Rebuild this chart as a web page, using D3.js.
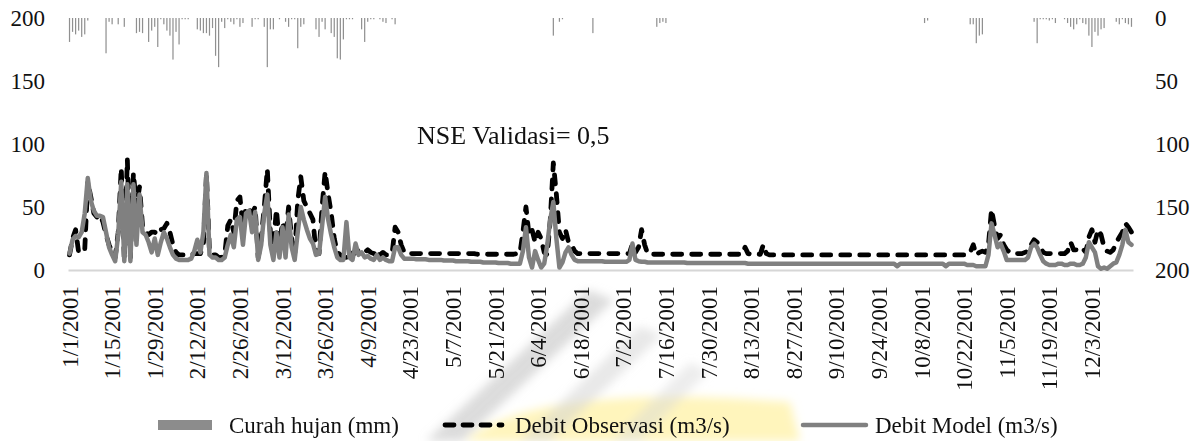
<!DOCTYPE html>
<html><head><meta charset="utf-8">
<script src="https://cdn.jsdelivr.net/npm/d3@7"></script>
<style>
html,body{margin:0;padding:0;background:#fff;}
svg{display:block;font-family:"Liberation Serif",serif;}
</style></head>
<body><svg id="c" width="1196" height="441"></svg>
<script>
// ---------- DATA ----------
const nDays = 350; // 1/1/2001 .. 12/16/2001
const tickLabels = ["1/1/2001","1/15/2001","1/29/2001","2/12/2001","2/26/2001","3/12/2001","3/26/2001","4/9/2001","4/23/2001","5/7/2001","5/21/2001","6/4/2001","6/18/2001","7/2/2001","7/16/2001","7/30/2001","8/13/2001","8/27/2001","9/10/2001","9/24/2001","10/8/2001","10/22/2001","11/5/2001","11/19/2001","12/3/2001"];
const leftTicks = [0, 50, 100, 150, 200];
const rightTicks = [0, 50, 100, 150, 200];
const seriesNames = ["Curah hujan (mm)", "Debit Observasi (m3/s)", "Debit Model (m3/s)"];
const titleText = "NSE Validasi= 0,5";

const rain = [
19,11,13,10,15,13,2,0,0,0,
0,0,28,3,5,0,5,0,7,0,
0,0,12,11,12,0,19,10,7,23,
1,5,10,14,33,11,21,1,1,1,
0,0,9,10,12,12,14,8,30,39,
3,8,1,3,5,1,7,4,0,0,
7,1,1,0,7,39,9,9,0,1,
0,3,7,1,1,24,7,5,0,0,
0,9,15,3,9,0,12,15,32,33,
17,1,1,1,0,0,9,19,3,1,
1,0,1,3,4,0,1,5,0,0,
0,0,0,0,0,0,0,0,0,0,
0,0,0,0,0,0,0,0,0,0,
0,0,0,0,0,0,0,0,0,0,
0,0,0,0,0,0,0,0,0,0,
0,0,0,0,0,0,0,0,0,14,
0,3,1,0,0,0,0,0,0,0,
0,0,12,0,0,0,0,0,0,0,
0,0,0,0,0,0,0,0,0,0,
0,0,0,7,4,3,4,0,0,0,
0,0,0,0,0,0,0,0,0,0,
0,0,0,0,0,0,0,0,0,0,
0,0,0,0,0,0,0,0,0,0,
0,0,0,0,0,0,0,0,0,0,
0,0,0,0,0,0,0,0,0,0,
0,0,0,0,0,0,0,0,0,0,
0,0,0,0,0,0,0,0,0,0,
0,0,0,0,0,0,0,0,0,0,
0,4,2,0,0,0,0,0,0,0,
0,0,0,0,0,0,5,5,20,14,
13,0,0,0,0,0,0,0,0,0,
0,0,0,0,0,0,0,3,20,1,
1,1,2,1,4,0,0,1,4,7,
9,5,1,4,5,14,23,11,14,9,
8,0,0,0,3,5,1,4,5,7
];

const qObs = [
12,25,32,14,14,16,70,58,45,42,
44,38,28,20,14,10,30,81,8,88,
10,77,50,66,35,30,28,30,30,28,
32,33,37,30,20,14,12,12,12,12,
12,13,13,13,20,76,14,12,12,10,
10,12,35,40,30,55,58,35,50,48,
45,50,10,25,50,80,30,20,48,20,
38,25,50,25,12,55,74,55,50,45,
40,14,13,50,78,60,45,25,14,12,
10,10,15,12,14,16,15,14,16,14,
13,16,12,14,12,12,13,34,30,20,
14,13,13,13,13,13,13,13,13,13,
13,13,13,13,13,13,13,13,13,13,
13,13,13,13,12.5,12.5,12.5,12.5,12.5,12.5,
12.5,12.5,12.5,12.5,12.5,12.5,12.5,13,13,30,
50,28,32,22,30,25,14,12,40,85,
60,30,25,32,22,20,15,13,13,13,
13,13,13,13,13,13,13,13,13,13,
13,13,13,13,13,21,14,18,32,20,
13,12.5,12.5,12.5,12.5,12.5,12.5,12.5,12.5,12.5,
12.5,12.5,12.5,12.5,12.5,12.5,12.5,12.5,12.5,12.5,
12.5,12.5,12.5,12.5,12.5,12.5,12.5,12.5,12.5,12.5,
12.5,12.5,18,13,12.5,12.5,12.5,12.5,20,13,
12,12,12,12,12,12,12,12,12,12,
12,12,12,12,12,12,12,12,12,12,
12,12,12,12,12,12,12,12,12,12,
12,12,12,12,12,12,12,12,12,12,
12,12,12,12,12,12,12,12,12,12,
12,12,12,12,12,12,12,12,12,12,
12,12,12,12,12,12,14,20,12,14,
15,14,20,48,35,25,28,20,16,14,
14,13,13,13,14,15,20,24,22,18,
14,13,13,13,13,13,13,13,15,22,
16,16,15,17,14,26,32,22,32,28,
18,15,14,16,22,26,30,37,34,30
];

const qMod = [
13,24,27,26,30,45,73,55,47,43,
43,42,30,18,12,7,28,70,7,68,
7,68,20,60,30,28,22,14,25,12,
22,30,25,18,12,9,8,8,8,8,
9,15,24,14,30,77,12,10,10,8,
8,10,20,28,18,40,42,20,45,47,
30,46,8,20,45,60,20,8,30,10,
34,10,44,18,8,30,50,40,32,25,
21,12,13,35,58,40,28,18,10,8,
8,38,10,8,21,12,14,10,11,9,
8,12,8,10,8,7,7,18,18,12,
9,9,9,9,8.5,8.5,8.5,8.5,8,8,
8,8,8,7.5,7.5,7.5,7.5,7,7,7,
7,7,6.5,6.5,6.5,6.5,6,6,6,6,
6,5.5,5.5,5.5,5.5,5,5,5,5,15,
34,10,2,15,8,2,5,20,40,54,
25,2,6,14,18,12,8,7,7,7,
7,7,7,7,7,7,6.5,6.5,6.5,6.5,
6.5,6.5,6.5,6.5,8,21,8,7,6.5,6.5,
6,6,6,6,6,6,6,6,6,6,
6,6,6,5.5,5.5,5.5,5.5,5.5,5.5,5.5,
5.5,5.5,5.5,5.5,5.5,5.5,5.5,5.5,5.5,5.5,
5.5,5.5,5.5,5,5,5,5,5,5,5,
5,5,5,5,5,5,5,5,5,5,
5,5,5,5,5,5,5,5,5,5,
5,5,5,5,5,5,5,5,5,5,
5,5,5,5,5,5,5,5,5,5,
5,5,3,5,5,5,5,5,5,5,
5,5,5,5,5,5,5,5,3,5,
5,5,5,5,5,4,4,4,3,3,
3,3,12,37,28,18,21,15,8,8,
8,8,8,8,8,10,18,21,18,12,
7,5,4,4,4,5,5,4,4,5,
5,4,4,5,10,22,18,14,3,1,
2,1,3,5,6,12,20,32,22,20
];

// ---------- CHART ----------
const svg = d3.select("#c");
const plot = {left: 68, right: 1133, top: 18, bottom: 270};
const days = d3.range(nDays);

// faint background watermark (blurred logo)
const defs = svg.append("defs");
defs.append("filter").attr("id", "blur").attr("x", "-20%").attr("y", "-20%").attr("width", "140%").attr("height", "140%")
  .append("feGaussianBlur").attr("stdDeviation", 5);
const wm = svg.append("g").attr("filter", "url(#blur)");
wm.append("path").attr("d", "M465,441 C515,398 640,390 790,402 L800,441 Z").attr("fill", "#fff1a0").attr("opacity", 0.7);
wm.append("path").attr("d", "M426,441 L462,441 L614,300 L588,290 Z").attr("fill", "#c4c4c4").attr("opacity", 0.6);
wm.append("path").attr("d", "M520,441 L550,441 L662,335 L640,326 Z").attr("fill", "#d2d2d2").attr("opacity", 0.5);
wm.append("path").attr("d", "M612,441 L640,441 L708,372 L690,362 Z").attr("fill", "#d8d8d8").attr("opacity", 0.45);

const x = d3.scaleBand().domain(days).range([plot.left, plot.right]).paddingInner(0.6).paddingOuter(0.3);
const cx = i => x(i) + x.bandwidth() / 2;
const yL = d3.scaleLinear().domain([0, 200]).range([plot.bottom, plot.top]);
const yR = d3.scaleLinear().domain([0, 200]).range([plot.top, plot.bottom]);

// axes
const axL = svg.append("g").attr("transform", `translate(${plot.left},0)`)
  .call(d3.axisLeft(yL).tickValues(leftTicks).tickSize(0).tickPadding(23));
const axR = svg.append("g").attr("transform", `translate(${plot.right},0)`)
  .call(d3.axisRight(yR).tickValues(rightTicks).tickSize(0).tickPadding(22));
[axL, axR].forEach(a => {
  a.select(".domain").remove();
  a.selectAll("text").attr("font-family", "Liberation Serif").attr("font-size", 23).attr("fill", "#111");
});

const tickIdx = tickLabels.map((d, i) => i * 14);
const axB = svg.append("g").attr("transform", `translate(0,${plot.bottom})`)
  .call(d3.axisBottom(x).tickValues(tickIdx).tickSize(0).tickFormat((d, i) => tickLabels[i]));
axB.select(".domain").attr("stroke", "#d6d6d6").attr("stroke-width", 2);
axB.selectAll("text")
  .attr("font-family", "Liberation Serif").attr("font-size", 23).attr("fill", "#111")
  .attr("text-anchor", "end")
  .attr("transform", "rotate(-90)")
  .attr("x", -16).attr("y", 0).attr("dy", "0.35em");

// rain bars (hanging from top, right axis reversed)
svg.append("g").selectAll("rect").data(rain.map((v, i) => ({i, v})).filter(d => d.v > 0))
  .join("rect")
  .attr("x", d => x(d.i)).attr("width", x.bandwidth())
  .attr("y", yR(0)).attr("height", d => yR(d.v) - yR(0))
  .attr("fill", "#909090");

// lines
const lineL = d3.line().x((d, i) => cx(i)).y(d => yL(d));
svg.append("path").datum(qObs).attr("d", lineL)
  .attr("fill", "none").attr("stroke", "#000").attr("stroke-width", 4.8)
  .attr("stroke-dasharray", "9,10").attr("stroke-linecap", "round").attr("stroke-linejoin", "round");
svg.append("path").datum(qMod).attr("d", lineL)
  .attr("fill", "none").attr("stroke", "#808080").attr("stroke-width", 4.5)
  .attr("stroke-linecap", "round").attr("stroke-linejoin", "round");

// title
svg.append("text").attr("x", 417).attr("y", 144).attr("font-size", 26).attr("fill", "#111").text(titleText);

// legend
const lg = svg.append("g").attr("font-size", 23).attr("fill", "#111");
const ly = 425;
lg.append("rect").attr("x", 158).attr("y", ly - 5).attr("width", 54).attr("height", 10).attr("fill", "#8c8c8c");
lg.append("text").attr("x", 229).attr("y", ly).attr("dy", "0.33em").text(seriesNames[0]);
lg.append("line").attr("x1", 445).attr("x2", 502).attr("y1", ly).attr("y2", ly)
  .attr("stroke", "#000").attr("stroke-width", 4.8).attr("stroke-dasharray", "9,9").attr("stroke-linecap", "round");
lg.append("text").attr("x", 515).attr("y", ly).attr("dy", "0.33em").text(seriesNames[1]);
lg.append("line").attr("x1", 803).attr("x2", 866).attr("y1", ly).attr("y2", ly)
  .attr("stroke", "#808080").attr("stroke-width", 4.5).attr("stroke-linecap", "round");
lg.append("text").attr("x", 875).attr("y", ly).attr("dy", "0.33em").text(seriesNames[2]);
</script></body></html>
